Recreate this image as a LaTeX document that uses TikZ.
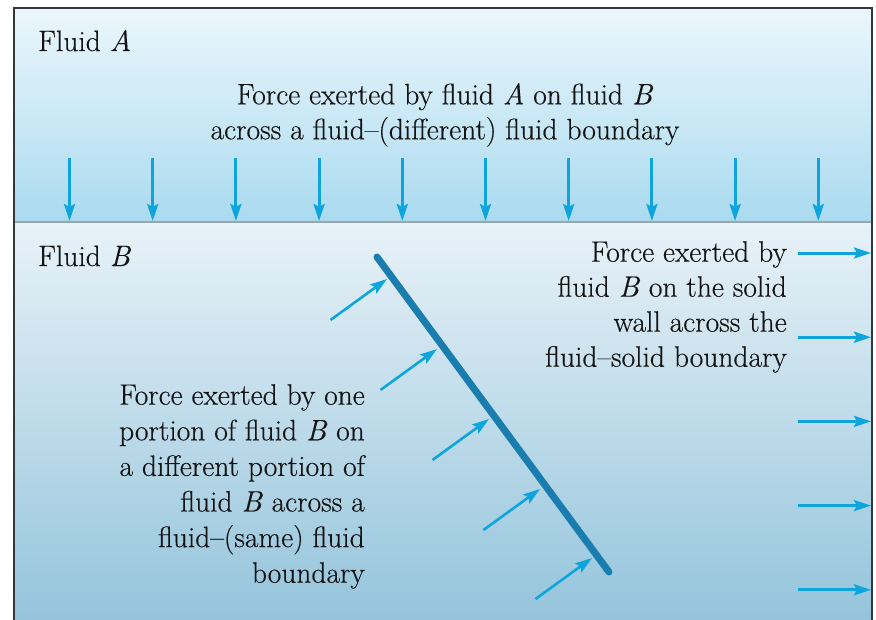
\documentclass[tikz,border=0pt]{standalone}
\usepackage{fontspec}
\newfontfamily\lbfont{Latin Modern Roman}[Ligatures=TeX, FakeBold=0.35]
\usetikzlibrary{arrows.meta}
\definecolor{topA}{RGB}{235,247,252}
\definecolor{botA}{RGB}{170,218,239}
\definecolor{topB}{RGB}{232,242,248}
\definecolor{botB}{RGB}{146,195,219}
\definecolor{arrowc}{RGB}{14,165,220}
\definecolor{wallc}{RGB}{26,125,175}
\definecolor{framec}{RGB}{50,55,60}
\definecolor{interc}{RGB}{155,166,172}
\tikzset{
  farrow/.style={draw=arrowc, line width=3pt, -{Stealth[length=17pt,width=11pt,inset=3pt]}},
  lbl/.style={font=\lbfont\fontsize{29.5}{35}\selectfont, inner sep=0pt, text=black!92},
  lblwide/.style={font=\lbfont\fontsize{29.5}{35.6}\selectfont, inner sep=0pt, text=black!92},
  wallline/.style={draw=wallc, line width=7pt, line cap=round},
}
\begin{document}
\begin{tikzpicture}[x=1pt,y=-1pt]
\useasboundingbox (0,0) rectangle (876,619);
\begin{scope}
\clip (0,0) rectangle (876,619);
\fill[top color=topA, bottom color=botA] (14,8) rectangle (872,222);
\fill[top color=topB, bottom color=botB] (14,222) rectangle (872,630);
\draw[framec, line width=2pt] (14,640) -- (14,8) -- (872,8) -- (872,640);
\draw[interc, line width=2pt] (15,222) -- (871,222);
\end{scope}
% labels
\node[lbl, anchor=base west] (fa) at (38,51) {Fluid \textit{A}};
\node[lbl, anchor=base west] (fb) at (38,266) {Fluid \textit{B}};
\node[lbl, align=center, anchor=north] (ta) at (445,83) {Force exerted by fluid \textit{A} on fluid \textit{B}\\across a fluid--(different) fluid boundary};
\node[lbl, align=right, anchor=north east] (tr) at (787,241) {Force exerted by\\fluid \textit{B} on the solid\\wall across the\\fluid--solid boundary};
\node[lblwide, align=right, anchor=north east] (tl) at (365,384) {Force exerted by one\\portion of fluid \textit{B} on\\a different portion of\\fluid \textit{B} across a\\fluid--(same) fluid\\boundary};
% down arrows
\foreach \i in {0,...,9} {
  \coordinate (ds\i) at ({69.5+83.2*\i},158);
  \coordinate (de\i) at ({69.5+83.2*\i},221);
  \draw[farrow] (ds\i) -- (de\i);
}
% right arrows
\foreach \i in {0,...,4} {
  \coordinate (rs\i) at (798,{253+84.2*\i});
  \coordinate (re\i) at (871,{253+84.2*\i});
  \draw[farrow] (rs\i) -- (re\i);
}
% wall
\coordinate (w1) at (377,257);
\coordinate (w2) at (609,572);
\draw[wallline] (w1) -- (w2);
% inclined arrows
\foreach \tx/\ty [count=\k] in {387/279, 437/349, 489/419, 540/489, 592/558} {
  \coordinate (it\k) at (\tx,\ty);
  \coordinate (is\k) at ({\tx-56.5},{\ty+41});
  \draw[farrow, line width=2.6pt] (is\k) -- (it\k);
}
\end{tikzpicture}
\end{document}
